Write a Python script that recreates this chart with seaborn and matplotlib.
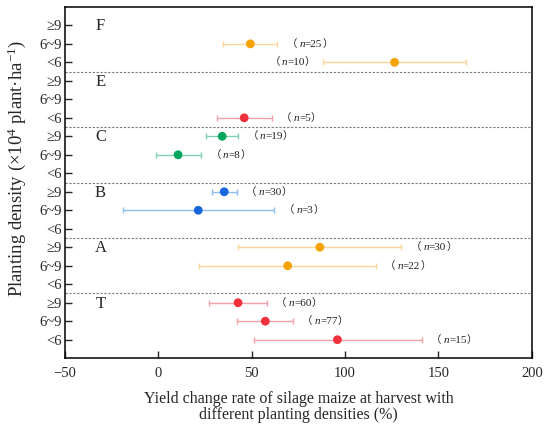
import matplotlib
matplotlib.use("Agg")
import matplotlib.pyplot as plt
from matplotlib.offsetbox import TextArea, HPacker, AnnotationBbox
import pandas as pd
import seaborn as sns

# data
groups = ["F", "E", "C", "B", "A", "T"]
densities = ["≥9", "6~9", "<6"]
grp = ["F", "F", "E", "C", "C", "B", "B", "A", "A", "T", "T", "T"]
dens = ["6~9", "<6", "<6", "≥9", "6~9", "≥9", "6~9", "≥9", "6~9", "≥9", "6~9", "<6"]
mean = [49.3, 126.5, 46.0, 34.2, 10.6, 35.3, 21.4, 86.5, 69.3, 42.7, 57.3, 95.9]
low = [34.4, 88.0, 31.4, 25.7, -1.2, 28.7, -19.0, 42.9, 22.0, 27.3, 42.4, 51.1]
high = [63.8, 165.0, 60.8, 42.7, 22.9, 41.9, 62.2, 130.2, 116.3, 58.1, 72.0, 141.1]
n = [25, 10, 5, 19, 8, 30, 3, 30, 22, 60, 77, 15]

point_col = {"F": "#F5A300", "E": "#F0303C", "C": "#00A65E", "B": "#1866DC",
             "A": "#F5A300", "T": "#F0303C"}
bar_col = {"F": "#FAD49A", "E": "#F5A0A6", "C": "#80D2AE", "B": "#8CBCF0",
           "A": "#FAD49A", "T": "#F5A0A6"}

df = pd.DataFrame({"group": grp, "density": dens, "mean": mean,
                   "low": low, "high": high, "n": n})
df["row"] = [groups.index(g) * 3 + densities.index(d) for g, d in zip(grp, dens)]

sns.set_style("ticks")
plt.rcParams["font.family"] = ["Liberation Serif", "Noto Sans CJK SC"]
plt.rcParams["mathtext.fontset"] = "custom"
plt.rcParams["mathtext.rm"] = "Liberation Serif"
plt.rcParams["mathtext.it"] = "Liberation Serif:italic"

fig = plt.figure(figsize=(5.5, 4.3), dpi=100)
ax = fig.add_axes([0.118, 0.167, 0.849, 0.817])

# error bars
for _, r in df.iterrows():
    ax.errorbar(r["mean"], r["row"],
                xerr=[[r["mean"] - r["low"]], [r["high"] - r["mean"]]],
                fmt="none", ecolor=bar_col[r["group"]], elinewidth=1.0,
                capsize=2.2, capthick=1.0, zorder=2)

# points
sns.scatterplot(data=df, x="mean", y="row", hue="group", palette=point_col,
                s=40, edgecolor="none", legend=False, zorder=3, ax=ax)

# n labels
txt = dict(family="Liberation Serif", size=8, color="#222222")
cjk = dict(family=["Noto Sans CJK SC"], size=7.5, color="#222222")
for _, r in df.iterrows():
    inner = HPacker(children=[TextArea("n", textprops=dict(txt, style="italic")),
                              TextArea("=%d" % r["n"], textprops=txt),
                              TextArea("）", textprops=cjk)],
                    align="baseline", pad=0, sep=0)
    box = HPacker(children=[TextArea("（", textprops=cjk), inner],
                  align="baseline", pad=0, sep=1.5)
    if r["group"] == "F" and r["density"] == "<6":
        xy, align = (r["low"] - 4, r["row"]), (1.0, 0.5)
    else:
        xy, align = (r["high"] + 5, r["row"]), (0.0, 0.5)
    ab = AnnotationBbox(box, xy, box_alignment=align, frameon=False, pad=0)
    ax.add_artist(ab)

# group letters and separators
for i, g in enumerate(groups):
    ax.text(-31, i * 3 + 0.05, g, fontsize=12, ha="center", va="center")
    if i > 0:
        ax.axhline(i * 3 - 0.5, color="#7a7a7a", lw=0.8, ls=(0, (2, 1.5)), zorder=1)

ax.set_xlim(-50, 200)
ax.set_ylim(len(groups) * 3, -1)
ax.set_yticks(range(len(groups) * 3))
ax.set_yticklabels(densities * len(groups), fontsize=10.5)
ax.set_xticks([-50, 0, 50, 100, 150, 200])
ax.set_xticklabels(["−50", "0", "50", "100", "150", "200"], fontsize=10.5)
ax.tick_params(axis="both", direction="in", length=5, width=1.0)
ax.tick_params(axis="y", pad=2)
ax.tick_params(axis="x", pad=6)
for s in ax.spines.values():
    s.set_linewidth(1.1)
    s.set_color("black")

ax.set_xlabel("Yield change rate of silage maize at harvest with\ndifferent planting densities (%)",
              fontsize=11.5, labelpad=8, linespacing=1.05)
ax.set_ylabel("Planting density (×10$^{4}$ plant·ha$^{-1}$)", fontsize=13.5)
ax.yaxis.set_label_coords(-0.08, 0.54)

plt.savefig("out.png", dpi=100)
